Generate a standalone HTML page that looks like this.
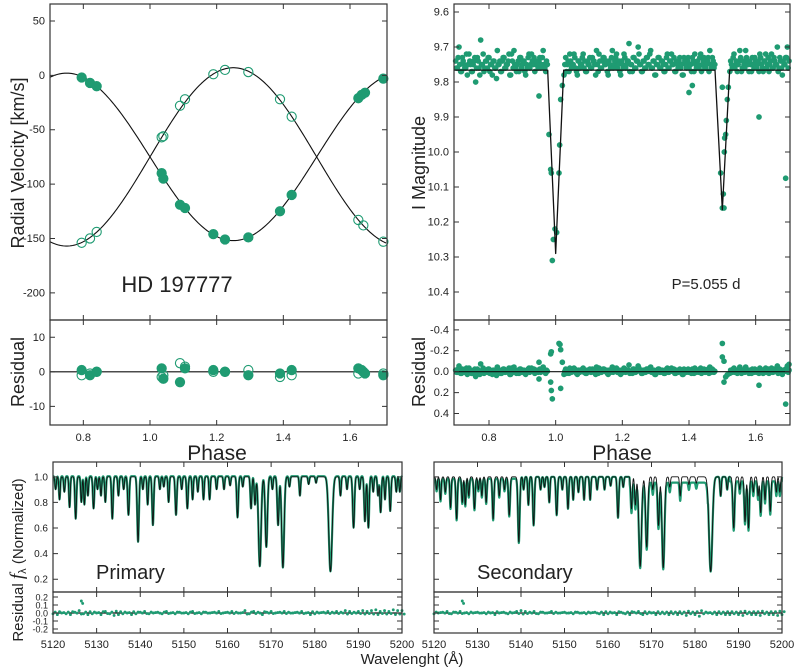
<!DOCTYPE html>
<html><head><meta charset="utf-8"><style>
html,body{margin:0;padding:0;background:#fff;}
svg{display:block;font-family:"Liberation Sans",sans-serif;}
</style></head><body>
<svg id="fig" width="800" height="671" viewBox="0 0 800 671" xmlns="http://www.w3.org/2000/svg"></svg>
<script>
// ---------- RV data ----------
const rvPrimPhase=[0.795,0.82,0.84,1.035,1.04,1.09,1.105,1.19,1.225,1.295,1.39,1.425,1.625,1.635,1.645,1.70];
const rvPrimVel=[-2,-7,-10,-90,-95,-119,-122,-146,-151,-149,-125,-110,-21,-18,-16,-3];
const rvSecPhase=[0.795,0.82,0.84,1.035,1.04,1.09,1.105,1.19,1.225,1.295,1.39,1.425,1.625,1.64,1.70];
const rvSecVel=[-154,-150,-144,-57,-56,-28,-22,1,5,3,-22,-38,-133,-138,-153];
const rvPrimRes=[0.5,-1,0,1,-2,-3,1,0.5,0,-1,-0.5,0.5,1,0.5,-0.5,-1];
const rvSecRes=[-1,-0.5,0,-1.5,-1,2.5,1.5,0,0,0.5,-1.5,-1,-0.5,0,-0.5];
const rvModel=[-75,77,82,0.75]; // gamma, K1, K2, phase of primary max
const rvYTicks=[50,0,-50,-100,-150,-200];
const rvResTicks=[10,0,-10];
const phaseTicks=[0.8,1.0,1.2,1.4,1.6];
// ---------- light curve ----------
const lcStart=0.70, lcStep=0.005;
const lcMagA=[9.74,9.76,9.70,9.77,9.73,9.75,9.76,9.78,9.72,9.75,9.77,9.74,9.80,9.73,9.76,9.68,9.75,9.77,9.74,9.76,
9.73,9.75,9.78,9.74,9.76,9.71,9.75,9.77,9.74,9.73,9.76,9.75,9.72,9.78,9.74,9.71,9.76,9.75,9.77,9.73,
9.75,9.74,9.78,9.76,9.72,9.75,9.74,9.73,9.75,9.75,9.74,9.76,9.73,9.75,9.77,9.75,9.76,9.75,9.74,9.76,
9.77,9.75,9.71,9.74,9.76,9.78,9.73,9.75,9.77,9.74,9.75,9.72,9.76,9.78,9.74,9.75,9.73,9.76,9.77,9.74,
9.75,9.76,9.73,9.74,9.78,9.75,9.72,9.76,9.74,9.73,9.75,9.77,9.74,9.76,9.71,9.75,9.73,9.76,9.74,9.78,
9.75,9.72,9.76,9.74,9.69,9.75,9.77,9.73,9.76,9.74,9.72,9.75,9.77,9.74,9.76,9.73,9.75,9.71,9.76,9.74,
9.78,9.75,9.73,9.76,9.74,9.77,9.75,9.72,9.76,9.74,9.75,9.73,9.77,9.75,9.74,9.76,9.78,9.73,9.75,9.74,
9.76,9.75,9.73,9.77,9.75,9.74,9.76,9.72,9.75,9.73,9.76,9.74,9.77,9.75,9.73,9.76,9.74,9.71,9.75,9.77,
9.74,9.76,9.73,9.75,9.78,9.74,9.76,9.72,9.75,9.77,9.74,9.73,9.76,9.75,9.71,9.74,9.77,9.75,9.73,9.76,
9.74,9.75,9.77,9.73,9.76,9.74,9.72,9.75,9.77,9.74,9.76,9.73,9.75,9.70,9.76,9.74,9.78,9.75,9.73,9.70,9.74];
const lcMagB=[9.76,9.73,9.75,9.77,9.74,9.76,9.72,9.75,9.74,9.77,9.75,9.73,9.76,9.74,9.78,9.75,9.72,9.76,9.74,9.73,
9.77,9.75,9.74,9.76,9.79,9.75,9.74,9.77,9.73,9.76,9.75,9.74,9.78,9.72,9.76,9.75,9.77,9.74,9.73,9.76,
9.74,9.77,9.75,9.73,9.76,9.72,9.75,9.77,9.74,9.76,9.73,9.75,9.71,9.76,9.74,9.75,9.77,9.73,9.76,9.74,
9.75,9.78,9.74,9.76,9.73,9.75,9.77,9.74,9.72,9.76,9.75,9.73,9.77,9.74,9.76,9.75,9.72,9.74,9.77,9.75,
9.73,9.76,9.74,9.75,9.71,9.77,9.74,9.76,9.73,9.75,9.74,9.78,9.75,9.73,9.76,9.74,9.72,9.75,9.77,9.74,
9.76,9.73,9.75,9.74,9.77,9.75,9.73,9.76,9.74,9.70,9.75,9.77,9.74,9.76,9.73,9.75,9.72,9.76,9.74,9.78,
9.75,9.73,9.76,9.74,9.75,9.77,9.73,9.76,9.74,9.72,9.75,9.77,9.74,9.76,9.73,9.75,9.78,9.74,9.76,9.73,
9.75,9.77,9.74,9.72,9.76,9.75,9.73,9.77,9.74,9.76,9.75,9.73,9.71,9.76,9.74,9.75,9.77,9.73,9.76,9.74,
9.75,9.72,9.76,9.74,9.77,9.75,9.73,9.76,9.74,9.75,9.71,9.77,9.74,9.76,9.73,9.75,9.74,9.77,9.75,9.73,
9.76,9.74,9.72,9.75,9.77,9.74,9.76,9.73,9.75,9.72,9.76,9.74,9.75,9.77,9.73,9.76,9.74,9.75,9.73,9.76];
const eclPhase=[0.95,0.98,0.985,0.987,0.99,0.993,0.998,1.003,1.01,1.012,1.015,1.02,1.40,1.41,1.495,1.50,1.503,1.505,1.506,1.507,1.51,1.512,1.515,1.518,1.50,1.61,1.69];
const eclMag=[9.84,9.95,10.05,10.06,10.31,10.25,10.22,10.23,10.06,9.98,9.85,9.81,9.83,9.81,10.06,10.16,10.12,10.16,10.0,9.96,9.95,9.91,9.85,9.815,9.815,9.90,10.075];
const resPhase=[0.95,0.95,0.985,0.987,0.985,0.987,0.99,1.01,1.013,1.015,1.015,1.02,1.50,1.50,1.505,1.505,1.51,1.515,1.61,1.69,1.70];
const resMag=[-0.09,0.07,-0.17,-0.19,0.10,0.18,0.26,-0.27,-0.26,-0.21,0.16,-0.09,-0.27,-0.14,-0.10,0.10,0.05,0.03,0.13,0.31,-0.07];
const lcModel=[9.766,1.0,10.29,0.024,1.5,10.165,0.022];
const magTicks=[9.6,9.7,9.8,9.9,10.0,10.1,10.2,10.3,10.4];
const magResTicks=[-0.4,-0.2,0.0,0.2,0.4];
// ---------- spectra ----------
const lineCenter=[5120.6,5121.5,5122.6,5123.8,5125.2,5126.5,5127.2,5128.0,5129.3,5130.2,5131.0,5132.0,5133.6,5135.0,5136.2,5137.3,5139.5,5140.6,5141.7,5142.9,5144.5,5145.4,5146.5,5148.2,5149.5,5150.8,5152.0,5153.2,5154.5,5155.9,5157.5,5159.2,5160.6,5162.3,5163.5,5165.4,5166.3,5167.4,5168.9,5170.3,5171.6,5172.7,5174.2,5176.6,5178.6,5180.3,5183.6,5185.9,5187.4,5188.9,5190.3,5191.5,5192.3,5193.4,5194.5,5195.1,5196.1,5197.3,5198.7,5199.5];
const lineDepth=[0.90,0.82,0.88,0.76,0.67,0.80,0.78,0.85,0.75,0.90,0.85,0.80,0.67,0.85,0.90,0.70,0.49,0.90,0.78,0.62,0.90,0.92,0.80,0.70,0.90,0.75,0.82,0.88,0.82,0.82,0.90,0.90,0.93,0.68,0.92,0.75,0.78,0.30,0.45,0.90,0.62,0.29,0.92,0.85,0.94,0.95,0.26,0.85,0.90,0.60,0.90,0.65,0.60,0.88,0.85,0.72,0.82,0.73,0.88,0.88];
const lineWidth=[0.15,0.15,0.15,0.15,0.17,0.15,0.15,0.15,0.17,0.15,0.15,0.15,0.17,0.15,0.15,0.18,0.2,0.15,0.15,0.18,0.15,0.15,0.15,0.18,0.15,0.17,0.15,0.15,0.15,0.15,0.15,0.15,0.15,0.18,0.15,0.17,0.17,0.3,0.25,0.15,0.2,0.28,0.15,0.15,0.15,0.15,0.38,0.15,0.15,0.2,0.15,0.18,0.18,0.15,0.15,0.17,0.15,0.17,0.15,0.15];
const primGreenSeg=[[5120,5200,1.005]];
const secGreenSeg=[[5120,5140,0.985],[5140,5165,1.0],[5165,5183,0.955],[5183,5188,1.0],[5188,5200,0.965]];
const specYTicks=[0.2,0.4,0.6,0.8,1.0];
const specResTicks=[0.2,0.1,0.0,-0.1,-0.2];
const wlTicks=[5120,5130,5140,5150,5160,5170,5180,5190,5200];
const primRes=[-0.01,-0.02,0.0,-0.01,-0.02,0.01,0.03,-0.01,-0.02,-0.01,0.0,-0.02,0.02,-0.01,-0.03,-0.02,-0.01,0.0,-0.02,-0.01,
0.01,0.02,-0.01,0.0,0.01,-0.01,0.02,0.0,-0.01,0.01,0.0,-0.01,0.02,0.0,-0.01,0.01,0.0,0.01,0.02,0.0,
0.01,0.02,0.01,0.0,0.03,-0.01,0.02,0.01,-0.02,0.01,0.02,0.0,0.01,0.02,0.01,0.0,0.01,0.02,0.0,-0.02,
-0.01,0.0,0.01,0.02,0.01,0.02,0.01,0.03,0.02,0.01,0.02,0.03,0.02,0.03,0.04,0.02,0.03,0.02,0.04,0.03,0.03];
const secRes=[-0.01,0.0,0.01,0.02,-0.01,0.01,0.02,0.0,-0.01,0.0,0.01,0.0,-0.01,0.0,-0.02,0.0,0.01,-0.01,0.0,0.02,
0.03,0.02,0.01,0.02,-0.01,0.01,0.0,0.02,0.01,0.0,0.01,0.0,-0.01,0.01,0.0,-0.01,0.0,0.01,-0.01,-0.02,
-0.01,0.0,-0.02,0.01,-0.01,-0.02,0.01,0.02,-0.02,-0.01,0.0,-0.02,-0.01,-0.01,-0.02,-0.01,-0.02,-0.01,-0.03,-0.01,
-0.02,-0.04,-0.01,0.0,-0.01,-0.02,-0.01,-0.02,-0.02,-0.01,-0.02,-0.03,-0.01,-0.02,-0.02,-0.03,-0.01,-0.02,-0.02,-0.03,-0.02];
const specResOutWl=[5126.5,5126.8];
const specResOut=[0.15,0.12];

// ---------- drawing ----------
const NS="http://www.w3.org/2000/svg", svg=document.getElementById('fig');
const G="#1f9b72";
function mk(tag,attrs,parent){const e=document.createElementNS(NS,tag);for(const k in attrs)e.setAttribute(k,attrs[k]);(parent||svg).appendChild(e);return e;}
function scale(d0,d1,p0,p1){return v=>p0+(v-d0)*(p1-p0)/(d1-d0);}
function txt(x,y,s,size,anchor,name,rot){const t=mk('text',{x:x,y:y,'font-size':size,'text-anchor':anchor||'middle',fill:'#222'});
if(rot)t.setAttribute('transform','rotate(-90 '+x+' '+y+')');t.textContent=s;

return t;}
function frame(x0,x1,y0,y1,name){const r=mk('rect',{x:x0,y:y0,width:x1-x0,height:y1-y0,fill:'none',stroke:'#333','stroke-width':1.2});

}
function yTicks(ticks,sy,x0,x1,labels,fs,fmt,name){ticks.forEach(v=>{const y=sy(v);
const t=mk('path',{d:`M${x0} ${y}h5M${x1} ${y}h-5`,stroke:'#333','stroke-width':1});


if(labels)txt(x0-5,y+3.5,fmt(v),fs,'end',name+'-label');});}
function xTicks(ticks,sx,ys,name){ticks.forEach(v=>{const x=sx(v);let d='';ys.forEach(([y,dir])=>{d+=`M${x} ${y}v${dir*5}`;});
const t=mk('path',{d:d,stroke:'#333','stroke-width':1});

});}
function dot(x,y,r,fill,name){const c=mk('circle',{cx:x,cy:y,r:r,fill:fill?G:'none',stroke:G,'stroke-width':1.1});

}
function poly(pts,stroke,w,name){const p=mk('polyline',{points:pts.map(p=>p[0].toFixed(2)+','+p[1].toFixed(2)).join(' '),fill:'none',stroke:stroke,'stroke-width':w,'stroke-linejoin':'round'});

}

// ===== Panel 1: RV =====
(function(){
const x0=50,x1=387,y0=4,ym=320,y1=425;
const sx=scale(0.7,1.711,x0,x1), sy=scale(65.6,-225,y0,ym), sr=scale(15,-15.4,ym,y1);
const [g,K1,K2,p0]=rvModel;
const c1=[],c2=[];for(let p=0.7;p<=1.711;p+=0.004){c1.push([sx(p),sy(g+K1*Math.cos(2*Math.PI*(p-p0)))]);c2.push([sx(p),sy(g-K2*Math.cos(2*Math.PI*(p-p0)))]);}
poly(c1,'#111',1.1,'primary-rv-curve');poly(c2,'#111',1.1,'secondary-rv-curve');
rvSecPhase.forEach((p,i)=>dot(sx(p),sy(rvSecVel[i]),4.6,false,'secondary-rv-point'));
rvPrimPhase.forEach((p,i)=>dot(sx(p),sy(rvPrimVel[i]),4.6,true,'primary-rv-point'));
const z=mk('line',{x1:x0,x2:x1,y1:sr(0),y2:sr(0),stroke:'#111','stroke-width':1.2});


rvSecPhase.forEach((p,i)=>dot(sx(p),sr(rvSecRes[i]),4.6,false,'secondary-rv-residual'));
rvPrimPhase.forEach((p,i)=>dot(sx(p),sr(rvPrimRes[i]),4.6,true,'primary-rv-residual'));
frame(x0,x1,y0,ym,'rv-plot-frame');frame(x0,x1,ym,y1,'rv-residual-frame');
yTicks(rvYTicks,sy,x0,x1,true,11,v=>String(v),'rv-y-axis');
yTicks(rvResTicks,sr,x0,x1,true,11,v=>String(v),'rv-residual-y-axis');
xTicks(phaseTicks,sx,[[y0,1],[ym,-1],[ym,1],[y1,-1]],'rv-x-axis');
phaseTicks.forEach(v=>txt(sx(v),441,v.toFixed(1),11,'middle','rv-x-tick-label'));
txt(217,460,'Phase',21,'middle','rv-x-axis-title');
txt(24,163,'Radial Velocity [km/s]',18,'middle','rv-y-axis-title',true);
txt(24,372,'Residual',18,'middle','rv-residual-y-axis-title',true);
txt(177,292,'HD 197777',22,'middle','star-name-label');
})();

// ===== Panel 2: light curve =====
(function(){
const x0=454,x1=790,y0=4,ym=320,y1=425;
const sx=scale(0.695,1.703,x0,x1), sy=scale(9.577,10.48,y0,ym), sr=scale(-0.494,0.51,ym,y1);
const [base,e1,d1,w1,e2,d2,w2]=lcModel;
function model(p){let m=base;if(Math.abs(p-e1)<w1)m=Math.max(m,d1-(d1-base)*Math.abs(p-e1)/w1);if(Math.abs(p-e2)<w2)m=Math.max(m,d2-(d2-base)*Math.abs(p-e2)/w2);return m;}
function inEcl(p){return Math.abs(p-e1)<w1||Math.abs(p-e2)<w2;}
const pts=[];[lcMagA,lcMagB].forEach((arr,k)=>arr.forEach((m,i)=>{const p=lcStart+(i+k*0.5)*lcStep;if(p>1.703||inEcl(p))return;pts.push([p,m]);}));
pts.forEach(([p,m])=>dot(sx(p),sy(m),2.3,true,'light-curve-point'));
eclPhase.forEach((p,i)=>dot(sx(p),sy(eclMag[i]),2.3,true,'eclipse-point'));
const c=[];[0.695,e1-w1,e1,e1+w1,e2-w2,e2,e2+w2,1.703].forEach(p=>c.push([sx(p),sy(model(p))]));
poly(c,'#111',1.3,'light-curve-model');
pts.forEach(([p,m])=>dot(sx(p),sr((m-base+0.012)),2.3,true,'light-curve-residual'));
resPhase.forEach((p,i)=>dot(sx(p),sr(resMag[i]),2.3,true,'light-curve-residual-outlier'));
const z=mk('line',{x1:x0,x2:x1,y1:sr(0),y2:sr(0),stroke:'#111','stroke-width':1.2});


frame(x0,x1,y0,ym,'lc-plot-frame');frame(x0,x1,ym,y1,'lc-residual-frame');
yTicks(magTicks,sy,x0,x1,true,11,v=>v.toFixed(1),'mag-y-axis');
yTicks(magResTicks,sr,x0,x1,true,11,v=>v.toFixed(1),'mag-residual-y-axis');
xTicks(phaseTicks,sx,[[y0,1],[ym,-1],[ym,1],[y1,-1]],'lc-x-axis');
phaseTicks.forEach(v=>txt(sx(v),441,v.toFixed(1),11,'middle','lc-x-tick-label'));
txt(622,460,'Phase',21,'middle','lc-x-axis-title');
txt(425,163,'I Magnitude',18,'middle','mag-y-axis-title',true);
txt(425,372,'Residual',18,'middle','mag-residual-y-axis-title',true);
txt(706,289,'P=5.055 d',15,'middle','period-label');
})();

// ===== Panels 3/4: spectra =====
function flux(l){let f=1;for(let i=0;i<lineCenter.length;i++){const d=1-lineDepth[i],s=lineWidth[i],u=l-lineCenter[i];if(Math.abs(u)<6*s)f*=1-d*Math.exp(-u*u/(2*s*s));}return f;}
function segVal(segs,l){for(const s of segs)if(l>=s[0]&&l<=s[1])return s[2];return 1;}
function spectrum(x0,x1,segs,res,labels,label,key){
const y0=462,ym=592,y1=633;
const sx=scale(5120,5200,x0,x1), sy=scale(1.116,0.1,y0,ym), sr=scale(0.2625,-0.25,ym,y1);
const gpts=[],bpts=[];
for(let l=5120;l<=5200.001;l+=0.05){const f=flux(l);const c=segVal(segs,l);bpts.push([sx(l),sy(f)]);gpts.push([sx(l),sy(Math.min(1.06,f*c))]);}
poly(gpts,G,2.2,key+'-observed-spectrum');poly(bpts,'#111',0.9,key+'-model-spectrum');
const z=mk('line',{x1:x0,x2:x1,y1:sr(0),y2:sr(0),stroke:'#111','stroke-width':1.2});


res.forEach((v,i)=>{const l=5120+i;dot(sx(l),sr(v),0.9,true,key+'-residual-point');dot(sx(l+0.5),sr(-v*0.6+0.005),0.9,true,key+'-residual-point');});
specResOutWl.forEach((l,i)=>dot(sx(l),sr(specResOut[i]),0.9,true,key+'-residual-outlier'));
frame(x0,x1,y0,ym,key+'-spectrum-frame');frame(x0,x1,ym,y1,key+'-residual-frame');
yTicks(specYTicks,sy,x0,x1,labels,10,v=>v.toFixed(1),key+'-flux-axis');
yTicks(specResTicks,sr,x0,x1,labels,9,v=>v.toFixed(1),key+'-residual-axis');
xTicks(wlTicks,sx,[[y0,1],[ym,-1],[ym,1],[y1,-1]],key+'-wavelength-axis');
wlTicks.forEach(v=>txt(sx(v),648,String(v),11,'middle',key+'-wavelength-tick-label'));
txt(x0+43,579,label,20,'start',key+'-label');
}
spectrum(53,402,primGreenSeg,primRes,true,'Primary','primary');
spectrum(434,782,secGreenSeg,secRes,false,'Secondary','secondary');
(function(){const t=mk('text',{x:23,y:560,'font-size':15,'text-anchor':'middle',fill:'#222',transform:'rotate(-90 23 560)'});


t.innerHTML='Residual <tspan font-style="italic" font-family="Liberation Serif" font-size="19">f</tspan><tspan font-size="11" dy="3">λ</tspan><tspan dy="-3"> (Normalized)</tspan>';})();
txt(412,664,'Wavelenght (Å)',15,'middle','wavelength-axis-title');
</script>
</body></html>
